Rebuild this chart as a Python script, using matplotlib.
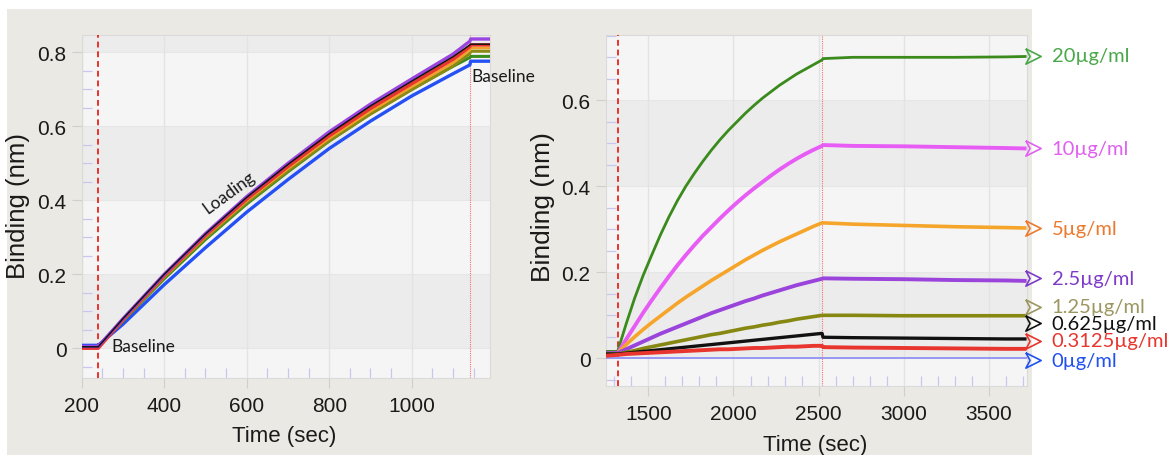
import matplotlib
matplotlib.use("Agg")
import matplotlib.pyplot as plt
from matplotlib.ticker import MultipleLocator
from matplotlib.patches import Rectangle

# ---------------- Loading step (left panel) ----------------
load_time = [200, 238, 240, 300, 400, 500, 600, 700, 800, 900, 1000, 1100, 1141, 1143, 1190]
load_purple = [0.005, 0.005, 0.005, 0.080, 0.200, 0.310, 0.410, 0.500, 0.585, 0.660, 0.728, 0.795, 0.830, 0.836, 0.836]
load_black = [0.004, 0.004, 0.004, 0.080, 0.200, 0.309, 0.408, 0.497, 0.580, 0.655, 0.722, 0.788, 0.820, 0.822, 0.822]
load_red = [0.000, 0.000, 0.000, 0.077, 0.196, 0.305, 0.403, 0.491, 0.574, 0.648, 0.715, 0.781, 0.815, 0.820, 0.820]
load_orange = [0.003, 0.003, 0.003, 0.076, 0.194, 0.302, 0.399, 0.486, 0.568, 0.641, 0.707, 0.772, 0.806, 0.812, 0.812]
load_olive = [0.003, 0.003, 0.003, 0.075, 0.192, 0.298, 0.394, 0.480, 0.561, 0.633, 0.699, 0.763, 0.797, 0.803, 0.803]
load_green = [0.004, 0.004, 0.004, 0.074, 0.188, 0.294, 0.390, 0.477, 0.560, 0.634, 0.700, 0.762, 0.786, 0.789, 0.789]
load_blue = [0.008, 0.008, 0.008, 0.065, 0.172, 0.272, 0.368, 0.456, 0.540, 0.614, 0.682, 0.742, 0.766, 0.776, 0.776]

# ---------------- Association / dissociation (right panel) ----------------
assoc_time = [1250,
              1320, 1370, 1420, 1470, 1520, 1570, 1620, 1670, 1720, 1770, 1820, 1870, 1920,
              1970, 2020, 2070, 2120, 2170, 2220, 2270, 2320, 2370, 2420, 2470, 2520,
              2525, 2700, 3000, 3300, 3600, 3720]
conc_20 = [0.016,
           0.016, 0.080, 0.140, 0.193, 0.240, 0.286, 0.328, 0.366, 0.400, 0.430, 0.458, 0.484, 0.508,
           0.530, 0.550, 0.570, 0.588, 0.605, 0.620, 0.635, 0.648, 0.661, 0.672, 0.683, 0.694,
           0.697, 0.700, 0.700, 0.700, 0.701, 0.702]
conc_10 = [0.012,
           0.012, 0.044, 0.075, 0.106, 0.135, 0.163, 0.190, 0.216, 0.240, 0.263, 0.285, 0.305, 0.325,
           0.344, 0.362, 0.379, 0.395, 0.410, 0.425, 0.439, 0.452, 0.464, 0.475, 0.485, 0.494,
           0.496, 0.494, 0.493, 0.491, 0.489, 0.488]
conc_5 = [0.012,
          0.012, 0.032, 0.050, 0.067, 0.083, 0.098, 0.113, 0.128, 0.142, 0.155, 0.168, 0.181, 0.193,
          0.205, 0.217, 0.229, 0.240, 0.251, 0.261, 0.271, 0.280, 0.289, 0.298, 0.307, 0.315,
          0.315, 0.312, 0.309, 0.306, 0.304, 0.303]
conc_2_5 = [0.012,
            0.012, 0.021, 0.030, 0.039, 0.048, 0.057, 0.065, 0.073, 0.081, 0.089, 0.097, 0.105, 0.112,
            0.119, 0.126, 0.133, 0.139, 0.146, 0.152, 0.158, 0.164, 0.170, 0.175, 0.180, 0.185,
            0.186, 0.185, 0.184, 0.182, 0.181, 0.180]
conc_1_25 = [0.010,
             0.010, 0.014, 0.018, 0.023, 0.027, 0.031, 0.035, 0.039, 0.043, 0.047, 0.051, 0.055, 0.058,
             0.062, 0.066, 0.070, 0.073, 0.077, 0.080, 0.084, 0.087, 0.091, 0.094, 0.097, 0.100,
             0.100, 0.100, 0.099, 0.099, 0.099, 0.099]
conc_0_625 = [0.010,
              0.010, 0.012, 0.014, 0.016, 0.018, 0.020, 0.022, 0.024, 0.026, 0.028, 0.030, 0.032, 0.034,
              0.036, 0.038, 0.040, 0.042, 0.044, 0.046, 0.048, 0.050, 0.052, 0.054, 0.056, 0.058,
              0.049, 0.048, 0.047, 0.046, 0.045, 0.045]
conc_0_3125 = [0.006,
               0.008, 0.010, 0.011, 0.012, 0.013, 0.014, 0.015, 0.016, 0.017, 0.018, 0.019, 0.020, 0.021,
               0.021, 0.022, 0.023, 0.024, 0.024, 0.025, 0.026, 0.027, 0.027, 0.028, 0.029, 0.029,
               0.026, 0.025, 0.024, 0.023, 0.022, 0.022]
conc_0 = [0.0] * len(assoc_time)

conc_labels = ["20\u00b5g/ml", "10\u00b5g/ml", "5\u00b5g/ml", "2.5\u00b5g/ml",
               "1.25\u00b5g/ml", "0.625\u00b5g/ml", "0.3125\u00b5g/ml", "0\u00b5g/ml"]
label_levels = [0.704, 0.488, 0.303, 0.186, 0.120, 0.081, 0.041, -0.004]

left_xticks = [200, 400, 600, 800, 1000]
left_yticks = [0, 0.2, 0.4, 0.6, 0.8]
left_yticklabels = ["0", "0.2", "0.4", "0.6", "0.8"]
right_xticks = [1500, 2000, 2500, 3000, 3500]
right_yticks = [0, 0.2, 0.4, 0.6]
right_yticklabels = ["0", "0.2", "0.4", "0.6"]

step_lines_left = [240, 1141]
step_lines_right = [1320, 2520]

# ---------------- styling ----------------
TICK_FONT = "Liberation Sans"
NOTE_FONT = "Lato"
PANEL_LIGHT = "#f5f5f5"
PANEL_DARK = "#ececec"

W, H = 1171, 456
fig = plt.figure(figsize=(W / 100, H / 100), dpi=100)
fig.patch.set_facecolor("white")
fig.patches.append(Rectangle((7 / W, 0), (1032 - 7) / W, 1 - 10 / H, transform=fig.transFigure,
                             facecolor="#ebe9e3", edgecolor="none", zorder=-10))


def px_axes(x0, y0, x1, y1):
    return fig.add_axes([x0 / W, 1 - y1 / H, (x1 - x0) / W, (y1 - y0) / H])


def style_axes(ax, xlim, ylim, xticks, yticks, yticklabels, xminor, yminor, band_top):
    ax.set_facecolor(PANEL_LIGHT)
    ax.set_xlim(*xlim)
    ax.set_ylim(*ylim)
    for lo in [0.0, 0.4, 0.8]:
        if lo < band_top:
            ax.axhspan(lo, lo + 0.2, color=PANEL_DARK, zorder=0, lw=0)
    for yv in yticks:
        ax.axhline(yv, color="#e6e6e6", lw=0.8, zorder=0.5)
    for xv in xticks:
        ax.axvline(xv, color="#e3e3e3", lw=1.0, zorder=0.5)
    ax.set_xticks(xticks)
    ax.set_xticklabels([str(v) for v in xticks])
    ax.set_yticks(yticks)
    ax.set_yticklabels(yticklabels)
    ax.xaxis.set_minor_locator(MultipleLocator(xminor))
    ax.yaxis.set_minor_locator(MultipleLocator(yminor))
    ax.tick_params(which="major", direction="out", length=7, width=0.8, color="#cfcfcf",
                   labelsize=15, labelcolor="#1a1a1a")
    ax.tick_params(which="minor", direction="in", length=7, width=0.9, color="#c6c6ee")
    ax.tick_params(axis="x", which="major", pad=6)
    ax.tick_params(axis="y", which="major", pad=4)
    for lab in ax.get_xticklabels() + ax.get_yticklabels():
        lab.set_fontfamily(TICK_FONT)
    for sp in ax.spines.values():
        sp.set_color("#dadada")
        sp.set_linewidth(0.8)


# ---------------- left panel ----------------
axL = px_axes(81.7, 36, 490, 379)
style_axes(axL, (200, 1189.8), (-0.0803, 0.8468), left_xticks, left_yticks, left_yticklabels,
           50, 0.05, 1.0)

axL.axvline(step_lines_left[0], color="#e8332a", lw=1.4, ls=(0, (3, 2)), zorder=3)
axL.axvline(step_lines_left[1], color="#f07070", lw=0.8, ls=(0, (1, 1)), zorder=3)

for series, col, lw in [(load_blue, "#2450f5", 2.4), (load_green, "#3b8c1e", 2.2),
                        (load_olive, "#8a8a14", 2.2), (load_orange, "#f2a22a", 2.0),
                        (load_red, "#e8352e", 2.4), (load_purple, "#9b45e0", 2.4),
                        (load_black, "#111111", 1.1)]:
    axL.plot(load_time, series, color=col, lw=lw, zorder=4, solid_capstyle="butt")

note_kw = dict(fontfamily=NOTE_FONT, fontsize=12.5, color="#1a1a1a", zorder=6)
fig.text(111.7 / W, 1 - 346.7 / H, "Baseline", ha="left", va="center", **note_kw)
fig.text(471.7 / W, 1 - 76.7 / H, "Baseline", ha="left", va="center", **note_kw)
fig.text(229 / W, 1 - 193 / H, "Loading", ha="center", va="center", rotation=36, **note_kw)

# ---------------- right panel ----------------
axR = px_axes(605.7, 36, 1026.7, 387)
style_axes(axR, (1250, 3720.7), (-0.0644, 0.7519), right_xticks, right_yticks, right_yticklabels,
           100, 0.05, 0.6)

axR.axvline(step_lines_right[0], color="#e8332a", lw=1.4, ls=(0, (3, 2)), zorder=3)
axR.axvline(step_lines_right[1], color="#f07070", lw=0.8, ls=(0, (1, 1)), zorder=3)

trace_styles = [
    (conc_0, "#8a8af8", 1.2),
    (conc_20, "#3a8a1c", 2.0),
    (conc_10, "#e85cf6", 2.8),
    (conc_5, "#f5a52a", 2.6),
    (conc_2_5, "#9a44dc", 2.8),
    (conc_1_25, "#868812", 2.6),
    (conc_0_625, "#111111", 2.4),
    (conc_0_3125, "#e8352e", 2.8),
]
for series, col, lw in trace_styles:
    axR.plot(assoc_time, series, color=col, lw=lw, zorder=4, solid_capstyle="butt")

label_colors = ["#4aa84a", "#e060f0", "#ec7a2e", "#7d3cc8", "#9c9660", "#111111", "#e8352e", "#2050f0"]
chevron = [(-1, 1), (1, 0), (-1, -1), (-0.45, 0), (-1, 1)]
for text, level, col in zip(conc_labels, label_levels, label_colors):
    axR.plot([3758], [level], marker=chevron, ms=11, mfc="none", mec=col, mew=1.2,
             ls="none", clip_on=False, zorder=7)
    axR.text(3867, level, text, color=col, fontfamily=NOTE_FONT, fontsize=14.5,
             ha="left", va="center", clip_on=False, zorder=7)

# ---------------- axis titles ----------------
title_kw = dict(fontfamily=TICK_FONT, color="#1a1a1a")
fig.text(283.8 / W, 1 - 436.7 / H, "Time (sec)", ha="center", va="center", fontsize=16, **title_kw)
fig.text(815 / W, 1 - 446 / H, "Time (sec)", ha="center", va="center", fontsize=16, **title_kw)
fig.text(18 / W, 1 - 206 / H, "Binding (nm)", ha="center", va="center", rotation=90, fontsize=18.5, **title_kw)
fig.text(543 / W, 1 - 207 / H, "Binding (nm)", ha="center", va="center", rotation=90, fontsize=19, **title_kw)

fig.savefig("out.png", dpi=100, facecolor=fig.get_facecolor())
